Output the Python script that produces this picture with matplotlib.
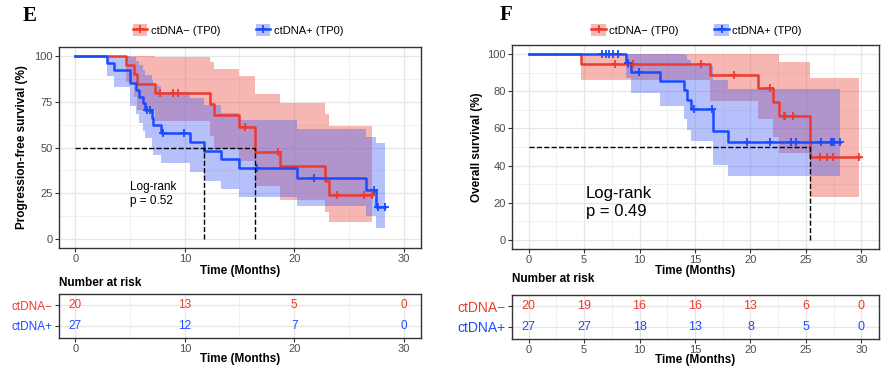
import numpy as np
import matplotlib
matplotlib.use('Agg')
import matplotlib.pyplot as plt
from matplotlib.patches import Patch
from matplotlib.lines import Line2D
from matplotlib.ticker import MultipleLocator

plt.rcParams['font.family'] = ['Liberation Sans', 'DejaVu Sans']

RED = '#EE3A2C'
BLUE = '#1B4BFF'
RED_FILL = '#EA4A3E'
BLUE_FILL = '#4A62F5'

# ---- panel E: progression-free survival ----
pfs_neg_t = [0, 4.6, 5.4, 5.6, 7.3, 12.3, 12.65, 15.0, 16.4, 18.7, 22.8, 23.2]
pfs_neg_s = [100, 95, 90, 85, 80, 73.8, 67.7, 61.5, 47.8, 39.8, 31.9, 23.9]
pfs_neg_hi = [100, 100, 100, 100, 99.6, 96.7, 93.1, 89.1, 79.5, 74.2, 68.2, 61.7]
pfs_neg_lo = [100, 85.9, 77.8, 70.7, 64.3, 56.4, 49.2, 42.5, 28.8, 21.4, 14.9, 9.3]
pfs_neg_end = 27.1
pfs_neg_cens = [7.7, 8.9, 9.4, 15.5, 18.5, 23.9, 26.4, 27.1]

pfs_pos_t = [0, 2.9, 3.5, 5.0, 5.55, 5.8, 6.15, 6.4, 6.98, 7.1, 7.85, 10.5, 11.75, 13.3, 15.0, 20.3, 26.6, 27.5]
pfs_pos_s = [100, 96.3, 92.6, 85.2, 81.5, 77.8, 74.1, 70.4, 66.3, 62.1, 58.0, 53.1, 48.3, 43.5, 38.6, 33.1, 26.5, 17.7]
pfs_pos_hi = [100, 100, 100, 99.7, 97.5, 95.1, 92.6, 89.9, 87.0, 83.8, 80.6, 77.0, 73.1, 69.1, 64.8, 60.3, 55.7, 52.7]
pfs_pos_lo = [100, 89.4, 83.2, 72.8, 68.1, 63.6, 59.3, 55.1, 50.5, 46.0, 41.7, 36.7, 31.9, 27.3, 23.0, 18.2, 12.6, 5.9]
pfs_pos_end = 28.3
pfs_pos_cens = [6.5, 6.85, 8.0, 9.9, 16.6, 21.8, 27.3, 27.7, 28.3]

pfs_medians = [11.75, 16.4]

# ---- panel F: overall survival ----
os_neg_t = [0, 4.7, 16.35, 20.7, 22.0, 22.6, 25.35]
os_neg_s = [100, 95, 88.7, 81.8, 74.4, 66.9, 44.6]
os_neg_hi = [100, 100, 100, 100, 100, 96.0, 87.3]
os_neg_lo = [100, 85.9, 75.0, 65.0, 55.3, 46.6, 22.8]
os_neg_end = 29.75
os_neg_cens = [7.8, 9.0, 9.4, 15.55, 18.5, 21.8, 23.0, 23.1, 23.8, 26.3, 26.9, 27.45, 29.75]

os_pos_t = [0, 8.76, 9.27, 11.8, 14.0, 14.3, 14.65, 16.65, 18.0]
os_pos_s = [100, 95.5, 90.7, 85.7, 80.6, 75.6, 70.6, 58.8, 52.9]
os_pos_hi = [100, 100, 100, 100, 99.7, 96.8, 93.6, 85.9, 81.5]
os_pos_lo = [100, 87.1, 79.2, 71.9, 65.2, 59.0, 53.3, 40.3, 34.4]
os_pos_end = 28.1
os_pos_cens = [6.65, 6.95, 7.2, 7.6, 8.05, 8.97, 9.93, 14.95, 16.5, 19.65, 21.8,
               23.7, 24.1, 26.4, 27.3, 27.4, 27.5, 28.1]

os_medians = [25.35]

# ---- numbers at risk ----
pfs_risk_t = [0, 10, 20, 30]
pfs_risk_neg = [20, 13, 5, 0]
pfs_risk_pos = [27, 12, 7, 0]
os_risk_t = [0, 5, 10, 15, 20, 25, 30]
os_risk_neg = [20, 19, 16, 16, 13, 6, 0]
os_risk_pos = [27, 27, 18, 13, 8, 5, 0]

group_labels = ['ctDNA\u2212', 'ctDNA+']
legend_labels = ['ctDNA\u2212 (TP0)', 'ctDNA+ (TP0)']


def surv_at(t, times, vals):
    idx = np.searchsorted(times, t, side='right') - 1
    return np.asarray(vals)[idx]


def draw_group(ax, t, s, lo, hi, end, cens, line_c, fill_c, alpha):
    tt = list(t) + [end]
    ax.fill_between(tt, list(lo) + [lo[-1]], list(hi) + [hi[-1]], step='post',
                    color=fill_c, alpha=alpha, lw=0, zorder=2)
    ax.step(tt, list(s) + [s[-1]], where='post', color=line_c, lw=1.8, zorder=3)
    ax.plot(cens, surv_at(cens, t, s), ls='none', marker='+', ms=6, mew=1.3,
            color=line_c, zorder=4)


def style_axes(ax, xmaj, ymaj):
    ax.set_facecolor('white')
    ax.xaxis.set_major_locator(MultipleLocator(xmaj))
    ax.xaxis.set_minor_locator(MultipleLocator(xmaj / 2))
    if ymaj:
        ax.yaxis.set_major_locator(MultipleLocator(ymaj))
        ax.yaxis.set_minor_locator(MultipleLocator(ymaj / 2))
    ax.grid(True, which='major', color='#E6E6E6', lw=0.9, zorder=0)
    ax.grid(True, which='minor', color='#EFEFEF', lw=0.6, zorder=0)
    ax.set_axisbelow(True)
    for sp in ax.spines.values():
        sp.set_color('#333333')
        sp.set_linewidth(1.0)
    ax.tick_params(which='major', length=3, width=0.8, color='#333333',
                   labelsize=8, labelcolor='#4D4D4D', pad=1.5)
    ax.tick_params(which='minor', length=0)


def km_panel(ax, neg, pos, medians, ylabel, ymaj, text, tpos, tsize):
    draw_group(ax, *neg, RED, RED_FILL, 0.4)
    draw_group(ax, *pos, BLUE, BLUE_FILL, 0.4)
    ax.plot([0, max(medians)], [50, 50], ls='--', color='black', lw=1.0, zorder=5)
    for m in medians:
        ax.plot([m, m], [0, 50], ls='--', color='black', lw=1.0, zorder=5)
    ax.text(tpos[0], tpos[1], text, fontsize=tsize, va='center', ha='left',
            linespacing=1.25, zorder=6)
    ax.set_xlim(-1.5, 31.6)
    ax.set_ylim(-5, 105)
    style_axes(ax, 10 if ymaj == 25 else 5, ymaj)
    ax.set_ylabel(ylabel, fontsize=8.5, fontweight='bold')
    ax.set_xlabel('Time (Months)', fontsize=8.5, fontweight='bold')


def risk_table(ax, times, neg, pos, xmaj, fsize, lsize, nfam):
    for x, n in zip(times, neg):
        ax.text(x, 1, str(n), color=RED, ha='center', va='center', fontsize=fsize,
                family=nfam)
    for x, n in zip(times, pos):
        ax.text(x, 2, str(n), color=BLUE, ha='center', va='center', fontsize=fsize,
                family=nfam)
    ax.set_xlim(-1.5, 31.6)
    ax.set_ylim(2.6, 0.45)
    style_axes(ax, xmaj, None)
    ax.set_yticks([1, 2])
    ax.set_yticklabels(group_labels)
    ax.tick_params(axis='y', labelsize=lsize)
    for lab, c in zip(ax.get_yticklabels(), [RED, BLUE]):
        lab.set_color(c)
    ax.set_xlabel('Time (Months)', fontsize=8.5, fontweight='bold')


fig = plt.figure(figsize=(8.93, 3.70), dpi=100)

ax_e = fig.add_axes([0.0661, 0.3297, 0.4054, 0.5432])
ax_et = fig.add_axes([0.0661, 0.0865, 0.4054, 0.1189])
ax_f = fig.add_axes([0.5734, 0.3270, 0.4110, 0.5514])
ax_ft = fig.add_axes([0.5734, 0.0838, 0.4110, 0.1189])

km_panel(ax_e,
         (pfs_neg_t, pfs_neg_s, pfs_neg_lo, pfs_neg_hi, pfs_neg_end, pfs_neg_cens),
         (pfs_pos_t, pfs_pos_s, pfs_pos_lo, pfs_pos_hi, pfs_pos_end, pfs_pos_cens),
         pfs_medians, 'Progression-free survival (%)', 25,
         'Log-rank\np = 0.52', (5.0, 24.7), 8.5)
km_panel(ax_f,
         (os_neg_t, os_neg_s, os_neg_lo, os_neg_hi, os_neg_end, os_neg_cens),
         (os_pos_t, os_pos_s, os_pos_lo, os_pos_hi, os_pos_end, os_pos_cens),
         os_medians, 'Overall survival (%)', 20,
         'Log-rank\np = 0.49', (5.15, 20.0), 12)
ax_e.yaxis.set_label_coords(-0.086, 0.5)
ax_f.yaxis.set_label_coords(-0.079, 0.5)
ax_e.xaxis.set_label_coords(0.5, -0.085)
ax_f.xaxis.set_label_coords(0.5, -0.08)

narrow = ['Liberation Sans Narrow', 'Liberation Sans', 'DejaVu Sans']
risk_table(ax_et, pfs_risk_t, pfs_risk_neg, pfs_risk_pos, 10, 8.5, 8.5, narrow)
risk_table(ax_ft, os_risk_t, os_risk_neg, os_risk_pos, 5, 9, 10,
           ['Liberation Sans', 'DejaVu Sans'])
ax_et.xaxis.set_label_coords(0.5, -0.33)
ax_ft.xaxis.set_label_coords(0.5, -0.33)
ax_et.text(0, 1.11, 'Number at risk', transform=ax_et.transAxes, fontsize=8.5,
           fontweight='bold', ha='left', va='bottom')
ax_ft.text(0, 1.23, 'Number at risk', transform=ax_ft.transAxes, fontsize=8.5,
           fontweight='bold', ha='left', va='bottom')


# legends
def make_handles():
    hs = []
    for lc, fc, a in [(RED, RED_FILL, 0.4), (BLUE, BLUE_FILL, 0.4)]:
        hs.append((Patch(facecolor=fc, alpha=a, lw=0),
                   Line2D([], [], color=lc, lw=1.8, marker='+', ms=6, mew=1.3)))
    return hs


for cx in [0.2665, 0.78]:
    fig.legend(make_handles(), legend_labels, loc='center', bbox_to_anchor=(cx, 0.919),
               ncol=2, frameon=False, fontsize=8, handlelength=1.3, handleheight=1.3,
               handletextpad=0.3, columnspacing=3.2)

fig.text(0.0258, 0.957, 'E', fontsize=15, fontweight='bold', family='Liberation Serif',
         ha='left', va='center')
fig.text(0.559, 0.96, 'F', fontsize=15, fontweight='bold', family='Liberation Serif',
         ha='left', va='center')

fig.savefig('out.png', dpi=100)
